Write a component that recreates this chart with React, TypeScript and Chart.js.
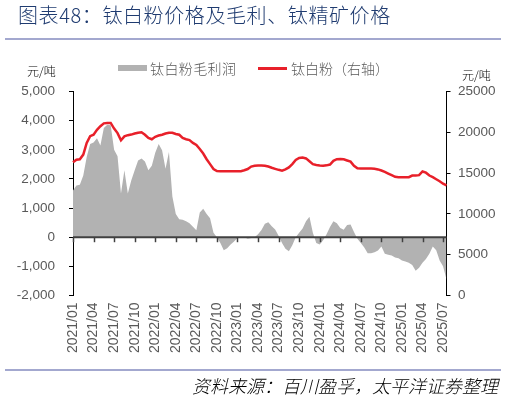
import React, { useEffect, useRef } from 'react';
import { Chart, registerables } from 'chart.js';

Chart.register(...registerables);

// Half-month periods from 2021/01 to 2025/07
const periods: string[] = [];
for (let y = 2021; y <= 2025; y++) {
  for (let m = 1; m <= 12; m++) {
    if (y === 2025 && m > 7) break;
    const mm = String(m).padStart(2, '0');
    periods.push(`${y}/${mm}/01`);
    periods.push(`${y}/${mm}/16`);
  }
}

const xTickLabels = [
  '2021/01', '2021/04', '2021/07', '2021/10',
  '2022/01', '2022/04', '2022/07', '2022/10',
  '2023/01', '2023/04', '2023/07', '2023/10',
  '2024/01', '2024/04', '2024/07', '2024/10',
  '2025/01', '2025/04', '2025/07',
];

// 钛白粉毛利润 (元/吨, left axis)
const margin = [
  1600, 1775, 1800, 2120, 2750, 3200, 3250, 3400, 3150, 3750,
  3860, 3840, 3000, 2780, 1500, 2300, 1500, 1950, 2300, 2630,
  2700, 2600, 2300, 2450, 2900, 3200, 2980, 2350, 2920, 1400,
  800, 620, 600, 550, 480, 360, 240, 850, 975, 800,
  650, 150, 0, -200, -450, -380, -250, -150, -30, 0,
  0, -50, -30, 0, 100, 250, 460, 515, 380, 265,
  50, -200, -400, -480, -280, 0, 150, 300, 550, 700,
  150, -200, -250, -100, 100, 350, 550, 480, 320, 260,
  420, 440, 180, -50, -200, -350, -550, -550, -520, -460,
  -320, -570, -600, -630, -700, -720, -800, -830, -880, -950,
  -1150, -1050, -880, -750, -570, -320, -450, -800, -1000, -1450,
];

// 钛白粉价格 (元/吨, right axis)
const price = [
  16330, 16650, 16700, 17270, 18700, 19520, 19700, 20300, 20740, 21100,
  21150, 21150, 20450, 19900, 19030, 19500, 19650, 19720, 19850, 19950,
  20000, 19700, 19300, 19150, 19450, 19600, 19700, 19850, 19950, 19950,
  19800, 19700, 19300, 19150, 19050, 18700, 18450, 17950, 17400, 16700,
  16100, 15500, 15250, 15230, 15230, 15230, 15230, 15230, 15230, 15230,
  15350, 15500, 15800, 15900, 15930, 15930, 15900, 15800, 15650, 15520,
  15400, 15300, 15450, 15700, 16100, 16600, 16850, 16900, 16800, 16450,
  16100, 16000, 15930, 15900, 15950, 16050, 16500, 16700, 16740, 16700,
  16550, 16400, 15900, 15600, 15560, 15560, 15560, 15560, 15540, 15450,
  15320, 15150, 14950, 14750, 14550, 14500, 14500, 14500, 14500, 14700,
  14700, 14750, 15200, 15050, 14700, 14500, 14250, 14000, 13700, 13500,
];

const RED = '#E8202A';
const GRAY = '#B2B2B2';
const TICK_COLOR = '#595959';
const FONT = "'Liberation Sans', Arial, sans-serif";
const CJK = "'Noto Sans CJK SC', sans-serif";

function tickLabelAt(i: number): string {
  const p = periods[i];
  if (!p || !p.endsWith('/01')) return '';
  const ym = p.slice(0, 7);
  return xTickLabels.includes(ym) ? ym : '';
}

export default function App() {
  const ref = useRef<HTMLCanvasElement | null>(null);

  useEffect(() => {
    if (!ref.current) return;
    const zeroLine = {
      id: 'zeroLine',
      afterDatasetsDraw(chart: any) {
        const { ctx, chartArea, scales } = chart;
        const y0 = scales.y.getPixelForValue(0);
        ctx.save();
        ctx.strokeStyle = '#404040';
        ctx.lineWidth = 2;
        ctx.beginPath();
        ctx.moveTo(chartArea.left, y0);
        ctx.lineTo(chartArea.right, y0);
        ctx.stroke();
        ctx.lineWidth = 1.5;
        periods.forEach((_, i) => {
          if (tickLabelAt(i)) {
            const x = Math.round(scales.x.getPixelForValue(i)) + 0.5;
            ctx.beginPath();
            ctx.moveTo(x, y0);
            ctx.lineTo(x, y0 + 5);
            ctx.stroke();
          }
        });
        ctx.restore();
      },
    };

    const chart = new Chart(ref.current, {
      type: 'line',
      data: {
        labels: periods,
        datasets: [
          {
            label: '钛白粉（右轴）',
            data: price,
            yAxisID: 'y1',
            borderColor: RED,
            borderWidth: 2.5,
            pointRadius: 0,
            fill: false,
            tension: 0,
            order: 0,
          },
          {
            label: '钛白粉毛利润',
            data: margin,
            yAxisID: 'y',
            backgroundColor: GRAY,
            borderColor: 'rgba(0,0,0,0)',
            borderWidth: 0,
            pointRadius: 0,
            fill: 'origin',
            tension: 0,
            order: 1,
          },
        ],
      },
      options: {
        animation: false,
        responsive: false,
        devicePixelRatio: 1,
        layout: { padding: { top: 91.5, left: 0, right: 0, bottom: 0 } },
        plugins: {
          legend: { display: false },
          tooltip: { enabled: false },
        },
        scales: {
          x: {
            type: 'category',
            grid: { display: false, drawTicks: false },
            border: { display: false },
            ticks: {
              autoSkip: false,
              maxRotation: 90,
              minRotation: 90,
              padding: 7,
              color: TICK_COLOR,
              font: { family: FONT, size: 14 },
              callback: (_v: any, i: number) => tickLabelAt(i),
            },
            afterFit: (s: any) => {
              s.height = 101.5;
            },
          },
          y: {
            position: 'left',
            min: -2000,
            max: 5000,
            ticks: {
              stepSize: 1000,
              padding: 14,
              color: TICK_COLOR,
              font: { family: FONT, size: 13.5 },
              callback: (v: any) => Number(v).toLocaleString('en-US'),
            },
            grid: { drawOnChartArea: false, tickLength: 4, color: '#000' },
            border: { color: '#000', width: 1 },
            afterFit: (s: any) => {
              s.width = 73;
            },
          },
          y1: {
            position: 'right',
            min: 0,
            max: 25000,
            ticks: {
              stepSize: 5000,
              padding: 7.5,
              color: TICK_COLOR,
              font: { family: FONT, size: 13.5 },
              callback: (v: any) => String(v),
            },
            grid: { drawOnChartArea: false, tickLength: 4, color: '#000' },
            border: { color: '#000', width: 1 },
            afterFit: (s: any) => {
              s.width = 60.5;
            },
          },
        },
      },
      plugins: [zeroLine],
    } as any);
    return () => chart.destroy();
  }, []);

  const abs = (o: React.CSSProperties): React.CSSProperties => ({ position: 'absolute', whiteSpace: 'nowrap', ...o });

  return (
    <div style={{ position: 'fixed', left: 0, top: 0, width: 507, height: 397, background: '#fff', overflow: 'hidden' }}>
      <canvas ref={ref} width={507} height={397} style={{ position: 'absolute', left: 0, top: 0, width: 507, height: 397 }} />
      <div style={abs({ left: 18, top: 4, fontFamily: CJK, fontWeight: 300, fontSize: 20, lineHeight: '22px', color: '#1F3B70', letterSpacing: 0.6 })}>
        图表48：钛白粉价格及毛利、钛精矿价格
      </div>
      <div style={abs({ left: 5, top: 38, width: 496, height: 2, background: '#A3A8CF' })} />
      <div style={abs({ left: 27, top: 63, fontFamily: CJK, fontWeight: 300, fontSize: 12, lineHeight: '16px', color: '#000' })}>元/吨</div>
      <div style={abs({ left: 462, top: 67, fontFamily: CJK, fontWeight: 300, fontSize: 12, lineHeight: '16px', color: '#000' })}>元/吨</div>
      <div style={abs({ left: 118, top: 65, width: 29, height: 6, background: GRAY })} />
      <div style={abs({ left: 150, top: 59, fontFamily: CJK, fontWeight: 300, fontSize: 14, lineHeight: '18px', color: '#595959', letterSpacing: 0.4 })}>钛白粉毛利润</div>
      <div style={abs({ left: 258, top: 67, width: 29, height: 2.5, background: RED })} />
      <div style={abs({ left: 291, top: 59, fontFamily: CJK, fontWeight: 300, fontSize: 14, lineHeight: '18px', color: '#595959' })}>钛白粉（右轴）</div>
      <div style={abs({ left: 5, top: 369, width: 496, height: 2, background: '#A3A8CF' })} />
      <div style={abs({ right: 9, top: 374, fontFamily: CJK, fontWeight: 300, fontSize: 18, lineHeight: '22px', color: '#000', fontStyle: 'italic' })}>
        资料来源：百川盈孚，太平洋证券整理
      </div>
    </div>
  );
}
